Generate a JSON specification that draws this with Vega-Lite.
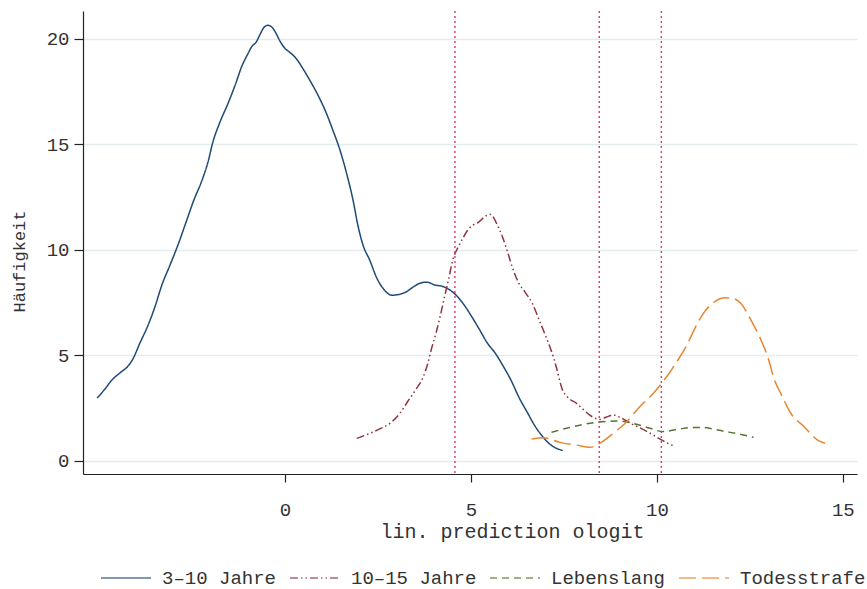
{
  "$schema": "https://vega.github.io/schema/vega-lite/v6.json",
  "width": 774,
  "height": 463,
  "autosize": {"type": "none"},
  "padding": {"left": 83, "top": 11, "right": 10, "bottom": 115},
  "background": "white",
  "config": {"view": {"stroke": null}, "font": "Liberation Mono"},
  "datasets": {
    "curves": [
      {"group": "3–10 Jahre", "x": -5.05, "y": 2.96},
      {"group": "3–10 Jahre", "x": -4.84, "y": 3.39},
      {"group": "3–10 Jahre", "x": -4.65, "y": 3.82},
      {"group": "3–10 Jahre", "x": -4.44, "y": 4.15},
      {"group": "3–10 Jahre", "x": -4.22, "y": 4.48},
      {"group": "3–10 Jahre", "x": -4.09, "y": 4.81},
      {"group": "3–10 Jahre", "x": -3.9, "y": 5.57},
      {"group": "3–10 Jahre", "x": -3.68, "y": 6.42},
      {"group": "3–10 Jahre", "x": -3.49, "y": 7.32},
      {"group": "3–10 Jahre", "x": -3.31, "y": 8.32},
      {"group": "3–10 Jahre", "x": -3.09, "y": 9.27},
      {"group": "3–10 Jahre", "x": -2.88, "y": 10.21},
      {"group": "3–10 Jahre", "x": -2.66, "y": 11.3},
      {"group": "3–10 Jahre", "x": -2.45, "y": 12.35},
      {"group": "3–10 Jahre", "x": -2.23, "y": 13.29},
      {"group": "3–10 Jahre", "x": -2.07, "y": 14.15},
      {"group": "3–10 Jahre", "x": -1.94, "y": 15.09},
      {"group": "3–10 Jahre", "x": -1.75, "y": 16.04},
      {"group": "3–10 Jahre", "x": -1.53, "y": 16.94},
      {"group": "3–10 Jahre", "x": -1.34, "y": 17.8},
      {"group": "3–10 Jahre", "x": -1.16, "y": 18.7},
      {"group": "3–10 Jahre", "x": -0.99, "y": 19.31},
      {"group": "3–10 Jahre", "x": -0.89, "y": 19.64},
      {"group": "3–10 Jahre", "x": -0.78, "y": 19.83},
      {"group": "3–10 Jahre", "x": -0.67, "y": 20.21},
      {"group": "3–10 Jahre", "x": -0.56, "y": 20.55},
      {"group": "3–10 Jahre", "x": -0.46, "y": 20.64},
      {"group": "3–10 Jahre", "x": -0.35, "y": 20.55},
      {"group": "3–10 Jahre", "x": -0.24, "y": 20.26},
      {"group": "3–10 Jahre", "x": -0.13, "y": 19.88},
      {"group": "3–10 Jahre", "x": 0.0, "y": 19.55},
      {"group": "3–10 Jahre", "x": 0.13, "y": 19.36},
      {"group": "3–10 Jahre", "x": 0.3, "y": 19.07},
      {"group": "3–10 Jahre", "x": 0.46, "y": 18.65},
      {"group": "3–10 Jahre", "x": 0.67, "y": 18.03},
      {"group": "3–10 Jahre", "x": 0.89, "y": 17.32},
      {"group": "3–10 Jahre", "x": 1.08, "y": 16.61},
      {"group": "3–10 Jahre", "x": 1.29, "y": 15.66},
      {"group": "3–10 Jahre", "x": 1.48, "y": 14.72},
      {"group": "3–10 Jahre", "x": 1.67, "y": 13.53},
      {"group": "3–10 Jahre", "x": 1.83, "y": 12.35},
      {"group": "3–10 Jahre", "x": 1.96, "y": 11.16},
      {"group": "3–10 Jahre", "x": 2.1, "y": 10.21},
      {"group": "3–10 Jahre", "x": 2.28, "y": 9.5},
      {"group": "3–10 Jahre", "x": 2.47, "y": 8.65},
      {"group": "3–10 Jahre", "x": 2.63, "y": 8.18},
      {"group": "3–10 Jahre", "x": 2.88, "y": 7.84},
      {"group": "3–10 Jahre", "x": 3.09, "y": 7.89},
      {"group": "3–10 Jahre", "x": 3.25, "y": 7.99},
      {"group": "3–10 Jahre", "x": 3.44, "y": 8.22},
      {"group": "3–10 Jahre", "x": 3.63, "y": 8.41},
      {"group": "3–10 Jahre", "x": 3.82, "y": 8.46},
      {"group": "3–10 Jahre", "x": 4.03, "y": 8.32},
      {"group": "3–10 Jahre", "x": 4.22, "y": 8.27},
      {"group": "3–10 Jahre", "x": 4.44, "y": 8.08},
      {"group": "3–10 Jahre", "x": 4.65, "y": 7.75},
      {"group": "3–10 Jahre", "x": 4.84, "y": 7.32},
      {"group": "3–10 Jahre", "x": 5.03, "y": 6.8},
      {"group": "3–10 Jahre", "x": 5.24, "y": 6.18},
      {"group": "3–10 Jahre", "x": 5.43, "y": 5.6},
      {"group": "3–10 Jahre", "x": 5.65, "y": 5.1},
      {"group": "3–10 Jahre", "x": 5.86, "y": 4.5},
      {"group": "3–10 Jahre", "x": 6.08, "y": 3.8},
      {"group": "3–10 Jahre", "x": 6.29, "y": 3.0},
      {"group": "3–10 Jahre", "x": 6.51, "y": 2.3},
      {"group": "3–10 Jahre", "x": 6.72, "y": 1.64},
      {"group": "3–10 Jahre", "x": 6.94, "y": 1.11},
      {"group": "3–10 Jahre", "x": 7.12, "y": 0.78},
      {"group": "3–10 Jahre", "x": 7.31, "y": 0.57},
      {"group": "3–10 Jahre", "x": 7.47, "y": 0.48},
      {"group": "10–15 Jahre", "x": 1.93, "y": 1.05},
      {"group": "10–15 Jahre", "x": 2.3, "y": 1.3},
      {"group": "10–15 Jahre", "x": 2.55, "y": 1.5},
      {"group": "10–15 Jahre", "x": 2.85, "y": 1.8},
      {"group": "10–15 Jahre", "x": 3.09, "y": 2.24},
      {"group": "10–15 Jahre", "x": 3.3, "y": 2.8},
      {"group": "10–15 Jahre", "x": 3.53, "y": 3.4},
      {"group": "10–15 Jahre", "x": 3.72, "y": 3.97},
      {"group": "10–15 Jahre", "x": 3.84, "y": 4.6},
      {"group": "10–15 Jahre", "x": 3.94, "y": 5.3},
      {"group": "10–15 Jahre", "x": 4.07, "y": 6.1},
      {"group": "10–15 Jahre", "x": 4.18, "y": 6.9},
      {"group": "10–15 Jahre", "x": 4.29, "y": 7.76},
      {"group": "10–15 Jahre", "x": 4.4, "y": 8.6},
      {"group": "10–15 Jahre", "x": 4.51, "y": 9.5},
      {"group": "10–15 Jahre", "x": 4.65, "y": 10.1},
      {"group": "10–15 Jahre", "x": 4.78, "y": 10.53},
      {"group": "10–15 Jahre", "x": 4.9, "y": 10.9},
      {"group": "10–15 Jahre", "x": 5.05, "y": 11.16},
      {"group": "10–15 Jahre", "x": 5.2, "y": 11.3},
      {"group": "10–15 Jahre", "x": 5.4, "y": 11.6},
      {"group": "10–15 Jahre", "x": 5.5, "y": 11.68},
      {"group": "10–15 Jahre", "x": 5.58, "y": 11.6},
      {"group": "10–15 Jahre", "x": 5.7, "y": 11.2},
      {"group": "10–15 Jahre", "x": 5.85, "y": 10.6},
      {"group": "10–15 Jahre", "x": 6.0, "y": 9.8},
      {"group": "10–15 Jahre", "x": 6.11, "y": 9.18},
      {"group": "10–15 Jahre", "x": 6.29, "y": 8.4},
      {"group": "10–15 Jahre", "x": 6.45, "y": 8.0},
      {"group": "10–15 Jahre", "x": 6.65, "y": 7.45},
      {"group": "10–15 Jahre", "x": 6.85, "y": 6.6},
      {"group": "10–15 Jahre", "x": 7.01, "y": 5.9},
      {"group": "10–15 Jahre", "x": 7.17, "y": 5.16},
      {"group": "10–15 Jahre", "x": 7.3, "y": 4.4},
      {"group": "10–15 Jahre", "x": 7.45, "y": 3.4},
      {"group": "10–15 Jahre", "x": 7.6, "y": 3.0},
      {"group": "10–15 Jahre", "x": 7.84, "y": 2.71},
      {"group": "10–15 Jahre", "x": 8.0, "y": 2.45},
      {"group": "10–15 Jahre", "x": 8.24, "y": 2.1},
      {"group": "10–15 Jahre", "x": 8.47, "y": 1.95},
      {"group": "10–15 Jahre", "x": 8.63, "y": 2.05},
      {"group": "10–15 Jahre", "x": 8.83, "y": 2.16},
      {"group": "10–15 Jahre", "x": 8.97, "y": 2.08},
      {"group": "10–15 Jahre", "x": 9.36, "y": 1.7},
      {"group": "10–15 Jahre", "x": 9.6, "y": 1.5},
      {"group": "10–15 Jahre", "x": 9.9, "y": 1.21},
      {"group": "10–15 Jahre", "x": 10.1, "y": 1.0},
      {"group": "10–15 Jahre", "x": 10.25, "y": 0.85},
      {"group": "10–15 Jahre", "x": 10.44, "y": 0.7},
      {"group": "Lebenslang", "x": 7.17, "y": 1.34},
      {"group": "Lebenslang", "x": 7.57, "y": 1.53},
      {"group": "Lebenslang", "x": 8.11, "y": 1.74},
      {"group": "Lebenslang", "x": 8.65, "y": 1.85},
      {"group": "Lebenslang", "x": 9.0, "y": 1.87},
      {"group": "Lebenslang", "x": 9.36, "y": 1.76},
      {"group": "Lebenslang", "x": 9.81, "y": 1.53},
      {"group": "Lebenslang", "x": 10.17, "y": 1.37},
      {"group": "Lebenslang", "x": 10.62, "y": 1.5},
      {"group": "Lebenslang", "x": 10.95, "y": 1.57},
      {"group": "Lebenslang", "x": 11.2, "y": 1.57},
      {"group": "Lebenslang", "x": 11.5, "y": 1.5},
      {"group": "Lebenslang", "x": 11.82, "y": 1.38},
      {"group": "Lebenslang", "x": 12.2, "y": 1.26},
      {"group": "Lebenslang", "x": 12.6, "y": 1.1},
      {"group": "Todesstrafe", "x": 6.63, "y": 1.02},
      {"group": "Todesstrafe", "x": 6.94, "y": 1.08},
      {"group": "Todesstrafe", "x": 7.39, "y": 0.86},
      {"group": "Todesstrafe", "x": 7.84, "y": 0.73},
      {"group": "Todesstrafe", "x": 8.2, "y": 0.63},
      {"group": "Todesstrafe", "x": 8.47, "y": 0.82},
      {"group": "Todesstrafe", "x": 8.83, "y": 1.29},
      {"group": "Todesstrafe", "x": 9.19, "y": 1.84},
      {"group": "Todesstrafe", "x": 9.54, "y": 2.55},
      {"group": "Todesstrafe", "x": 9.9, "y": 3.18},
      {"group": "Todesstrafe", "x": 10.26, "y": 3.97},
      {"group": "Todesstrafe", "x": 10.62, "y": 4.92},
      {"group": "Todesstrafe", "x": 10.8, "y": 5.45},
      {"group": "Todesstrafe", "x": 11.02, "y": 6.27},
      {"group": "Todesstrafe", "x": 11.28, "y": 7.05},
      {"group": "Todesstrafe", "x": 11.55, "y": 7.53},
      {"group": "Todesstrafe", "x": 11.82, "y": 7.72},
      {"group": "Todesstrafe", "x": 12.04, "y": 7.69},
      {"group": "Todesstrafe", "x": 12.26, "y": 7.45},
      {"group": "Todesstrafe", "x": 12.53, "y": 6.66},
      {"group": "Todesstrafe", "x": 12.8, "y": 5.71},
      {"group": "Todesstrafe", "x": 12.98, "y": 4.92},
      {"group": "Todesstrafe", "x": 13.16, "y": 3.82},
      {"group": "Todesstrafe", "x": 13.33, "y": 3.18},
      {"group": "Todesstrafe", "x": 13.6, "y": 2.24},
      {"group": "Todesstrafe", "x": 13.96, "y": 1.6},
      {"group": "Todesstrafe", "x": 14.32, "y": 0.97},
      {"group": "Todesstrafe", "x": 14.52, "y": 0.82}
    ],
    "cuts": [{"x": 4.57}, {"x": 8.45}, {"x": 10.12}]
  },
  "layer": [
    {
      "data": {"name": "curves"},
      "mark": {"type": "line", "strokeWidth": 1.5, "interpolate": "monotone"},
      "encoding": {
        "x": {
          "field": "x", "type": "quantitative",
          "scale": {"domain": [-5.43, 15.38], "nice": false, "zero": false},
          "axis": {
            "values": [0, 5, 10, 15], "grid": false,
            "tickSize": 8, "tickColor": "#222", "tickWidth": 1.2,
            "domainColor": "#222", "domainWidth": 1.2,
            "labelFontSize": 19, "labelPadding": 18, "labelColor": "#333", "labelFont": "Liberation Mono",
            "title": "lin. prediction ologit", "titleFont": "Liberation Mono",
            "titleFontSize": 20, "titleFontWeight": "normal", "titleColor": "#333",
            "titleX": 429, "titleY": 47, "titleBaseline": "top", "titleAlign": "center"
          }
        },
        "y": {
          "field": "y", "type": "quantitative",
          "scale": {"domain": [-0.64, 21.32], "nice": false, "zero": false},
          "axis": {
            "values": [0, 5, 10, 15, 20], "grid": true,
            "gridColor": "#e3ecee", "gridWidth": 1.5,
            "tickSize": 9, "tickColor": "#222", "tickWidth": 1.2,
            "domainColor": "#222", "domainWidth": 1.2,
            "labelFontSize": 19, "labelPadding": 5, "labelColor": "#333", "labelFont": "Liberation Mono",
            "title": "Häufigkeit", "titleFont": "Liberation Mono",
            "titleFontSize": 17, "titleFontWeight": "normal", "titleColor": "#333",
            "titleX": -64, "titleY": 250, "titleAngle": -90, "titleBaseline": "middle", "titleAlign": "center"
          }
        },
        "color": {
          "field": "group", "type": "nominal",
          "scale": {
            "domain": ["3–10 Jahre", "10–15 Jahre", "Lebenslang", "Todesstrafe"],
            "range": ["#1f4a74", "#8e3540", "#55752f", "#e8862e"]
          },
          "legend": {
            "title": null, "orient": "none", "legendX": 17, "legendY": 541,
            "direction": "horizontal", "symbolType": "stroke", "symbolSize": 2500,
            "symbolStrokeWidth": 1.5, "symbolOpacity": 0.75, "labelFontSize": 19, "labelFont": "Liberation Mono",
            "labelColor": "#333", "labelOffset": 10, "columnPadding": 10, "labelLimit": 300
          }
        },
        "strokeDash": {
          "field": "group", "type": "nominal",
          "scale": {
            "domain": ["3–10 Jahre", "10–15 Jahre", "Lebenslang", "Todesstrafe"],
            "range": [[1, 0], [8, 3, 1.5, 3, 1.5, 3], [7, 5], [17, 6]]
          },
          "legend": {
            "title": null, "orient": "none", "legendX": 17, "legendY": 541,
            "direction": "horizontal", "symbolType": "stroke", "symbolSize": 2500,
            "symbolStrokeWidth": 1.5, "symbolOpacity": 0.75, "labelFontSize": 19, "labelFont": "Liberation Mono",
            "labelColor": "#333", "labelOffset": 10, "columnPadding": 10, "labelLimit": 300
          }
        }
      }
    },
    {
      "data": {"name": "cuts"},
      "mark": {"type": "rule", "color": "#d8386a", "strokeDash": [2, 3], "strokeWidth": 1.4},
      "encoding": {"x": {"field": "x", "type": "quantitative"}}
    }
  ]
}
